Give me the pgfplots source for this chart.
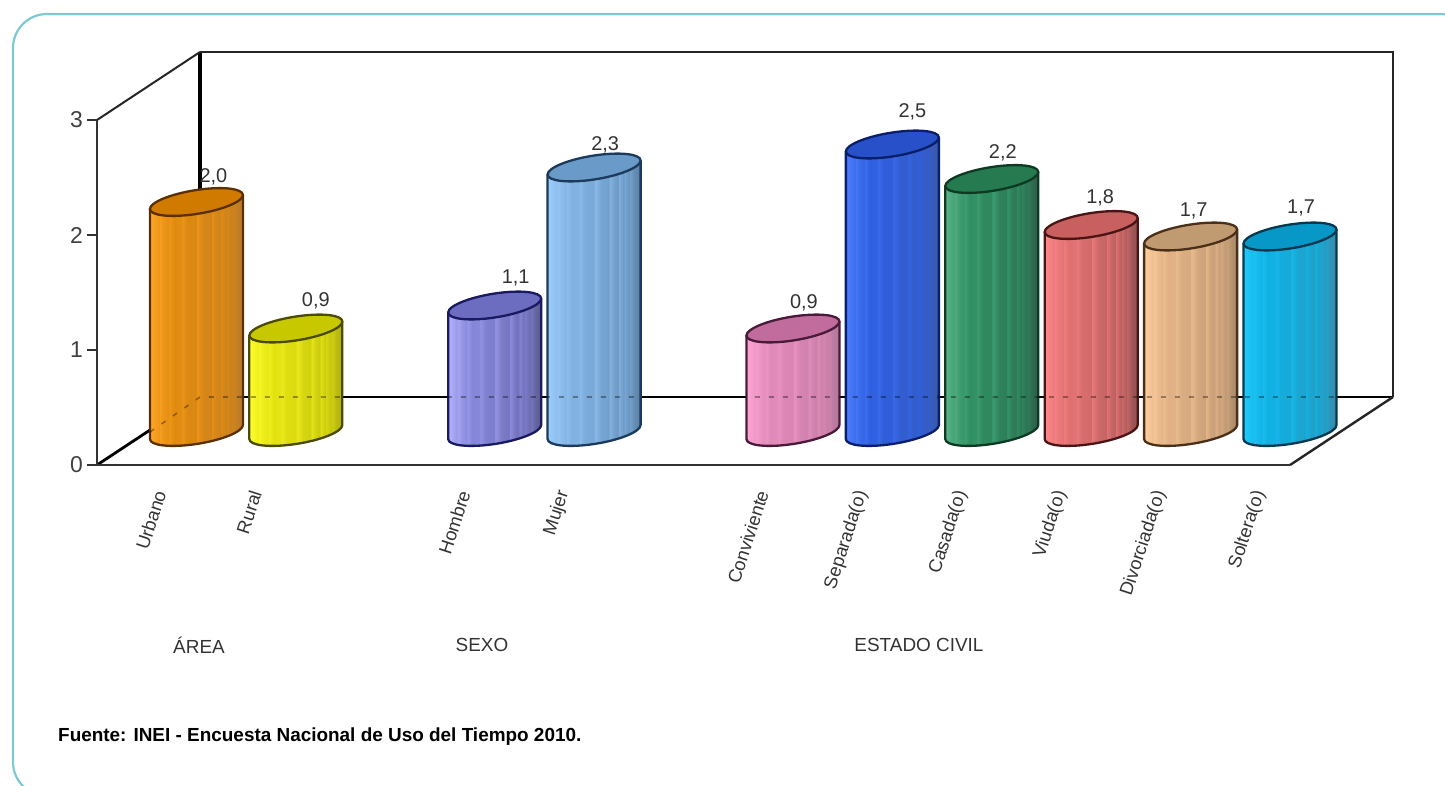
\documentclass[border=0pt]{standalone}
\usepackage{fontspec}
\setmainfont{Liberation Sans}
\usepackage{pgfplots}
\pgfplotsset{compat=1.18}

% vertical stripes of a cylinder, colours set per bar
\pgfdeclarehorizontalshading[cylL,cylM,cylD]{cylstripes}{100bp}{
  color(0bp)=(cylL); color(25bp)=(cylL); color(27bp)=(cylL!75!cylM);
  color(30bp)=(cylL!45!cylM); color(30.2bp)=(cylL!70!cylM);
  color(32bp)=(cylL!40!cylM); color(35bp)=(cylM!85!cylL);
  color(35.2bp)=(cylL!45!cylM); color(38bp)=(cylM); color(42bp)=(cylM!90!cylL);
  color(42.2bp)=(cylL!35!cylM); color(45bp)=(cylM!90!cylD);
  color(50bp)=(cylM!85!cylD); color(50.2bp)=(cylM!65!cylL);
  color(54bp)=(cylM!75!cylD); color(58bp)=(cylM!65!cylD);
  color(58.2bp)=(cylM!85!cylL); color(61bp)=(cylM!65!cylD);
  color(63bp)=(cylM!55!cylD); color(63.2bp)=(cylM); color(66bp)=(cylM!50!cylD);
  color(66.2bp)=(cylM!80!cylD); color(69bp)=(cylD!60!cylM);
  color(69.2bp)=(cylM!65!cylD); color(72bp)=(cylD!80!cylM);
  color(75bp)=(cylD); color(100bp)=(cylD)}

% whole cylinder hung from its data point: 115 px per unit
\pgfdeclareplotmark{cyl}{%
  \pgfmathsetlengthmacro\cylh{\cylv*115bp}%
  \pgfsetlinewidth{2.3bp}%
  \pgfsetstrokecolor{cylE}%
  \pgfpathmoveto{\pgfpoint{-46.5bp}{-7bp}}%
  \pgfpathlineto{\pgfpoint{-46.5bp}{-7bp-\cylh}}%
  \pgfpatharcaxes{180}{360}{\pgfpoint{46.5bp}{7bp}}{\pgfpoint{0bp}{12bp}}%
  \pgfpathlineto{\pgfpoint{46.5bp}{7bp}}%
  \pgfshadepath{cylstripes}{0}%
  \pgfusepath{stroke}%
  \pgfsetfillcolor{cylC}%
  \pgfpathellipse{\pgfpointorigin}{\pgfpoint{46.5bp}{7bp}}{\pgfpoint{0bp}{12bp}}%
  \pgfusepath{fill,stroke}%
}
\tikzset{cylcolors/.code n args={5}{%
  \definecolor{cylL}{HTML}{#1}\definecolor{cylM}{HTML}{#2}%
  \definecolor{cylD}{HTML}{#3}\definecolor{cylC}{HTML}{#4}%
  \definecolor{cylE}{HTML}{#5}}}

% x, value, colours, label shift
\newcommand{\cyl}[9]{%
  \addplot[scatter, only marks, mark=cyl, point meta=y,
    visualization depends on={rawy \as \cylv},
    cylcolors={#3}{#4}{#5}{#6}{#7},
    nodes near coords,
    every node near coord/.append style={xshift=#8bp, yshift=#9bp}]
    coordinates {(#1,#2)};
}

\begin{document}
\begin{tikzpicture}
\definecolor{panel}{HTML}{7FC9D2}
\begin{scope}[x=1bp,y=-1bp]
  \path[use as bounding box] (0,0) rectangle (1445,785);
  \draw[panel, line width=2.2bp, rounded corners=34bp] (13,14) rectangle (1474,796);
  % walls and floor
  \draw[black, line width=3.2bp] (200,397) -- (200,52);
  \draw[black!85, line width=2.2bp] (200,52) -- (1393,52) -- (1393,397);
  \draw[black, line width=2.8bp] (200,397) -- (1393,397);
  \draw[black, line width=2.8bp] (97,465) -- (200,397);
  \draw[black!85, line width=2.4bp] (1393,397) -- (1290,465);
  \draw[black!85, line width=2bp] (97,120) -- (200,52);
  \node[font=\fontsize{19}{22}\selectfont, text=black!80] at (199,645) {ÁREA};
  \node[font=\fontsize{19}{22}\selectfont, text=black!80] at (482,645) {SEXO};
  \node[font=\fontsize{19}{22}\selectfont, text=black!80] at (919,645) {ESTADO CIVIL};
  \node[font=\bfseries\fontsize{19}{22}\selectfont, anchor=west, inner sep=0pt] at (58,737)
    {Fuente: INEI - Encuesta Nacional de Uso del Tiempo 2010.};
\end{scope}

% front frame with the scale and the category names
\begin{axis}[
    at={(97bp,-465bp)}, anchor=origin,
    scale only axis, width=1193bp, height=345bp,
    xmin=0, xmax=12, ymin=0, ymax=3,
    axis x line=bottom, axis y line=left,
    axis line style={-, line width=2.6bp, black!80},
    ytick={0,1,2,3},
    tick style={black!80, line width=2bp},
    tick align=outside,
    major tick length=10bp,
    xtick={0.94,1.9,4,5,7,8,9,10,11,12},
    xticklabels={Urbano,Rural,Hombre,Mujer,Conviviente,Separada(o),Casada(o),Viuda(o),Divorciada(o),Soltera(o)},
    x tick style={draw=none},
    /pgf/number format/assume math mode=true,
    yticklabel style={font=\fontsize{23}{26}\selectfont, text=black!75, inner sep=2bp, xshift=-2bp},
    xticklabel style={font=\fontsize{18.5}{22}\selectfont, text=black!80, rotate=72,
      anchor=east, inner sep=0pt, xshift=-24.5bp, yshift=23.6bp},
]
\end{axis}

% the cylinders stand on their own base line inside the floor
\begin{axis}[
    at={(97bp,-432bp)}, anchor=origin,
    scale only axis, width=1193bp, height=345bp,
    xmin=0, xmax=12, ymin=0, ymax=3,
    hide axis, clip=false,
    /pgf/number format/.cd, use comma, fixed, fixed zerofill, precision=1,
    assume math mode=true, /pgfplots/.cd,
    nodes near coords style={font=\fontsize{20}{22}\selectfont, text=black!80, inner sep=0pt},
]
\cyl{1}{2.0}{FFA726}{E08A10}{B87C2C}{D07A00}{5A3000}{17}{16}
\cyl{2}{0.9}{FFFF30}{E2E210}{B0B010}{C8C800}{4A4A00}{20}{18}
\cyl{4}{1.1}{B4B4FF}{8484D8}{5C5C92}{6C6CC0}{1A1A60}{21}{18}
\cyl{5}{2.3}{9ED0FC}{80B0E0}{5A82A6}{6A9BC8}{1C3A5C}{11}{13}
\cyl{7}{0.9}{FFA8D4}{E088B8}{B07898}{C06C9C}{4A1A3A}{11}{16}
\cyl{8}{2.5}{4D80FF}{2F5FE0}{3A5AA8}{2850C8}{0A1E6A}{20}{23}
\cyl{9}{2.2}{5CB88A}{2F8F62}{2C5E48}{267A50}{0E3A24}{11}{17}
\cyl{10}{1.8}{FF8A8A}{E07070}{905050}{C86060}{4A1414}{9}{18}
\cyl{11}{1.7}{FFD0A0}{E0B084}{A88A68}{C09A70}{4A3018}{3}{16}
\cyl{12}{1.7}{20CCFF}{10B0E0}{3A8AAA}{0898C8}{06384E}{11}{19}
\end{axis}

% back edges show faintly through the cylinders
\begin{scope}[x=1bp,y=-1bp]
  \draw[black, opacity=.35, line width=1.6bp, dash pattern=on 5bp off 9bp] (150,432) -- (200,397) -- (1340,397);
\end{scope}
\end{tikzpicture}
\end{document}
